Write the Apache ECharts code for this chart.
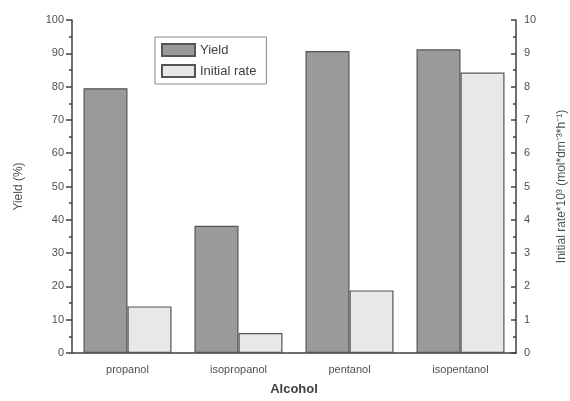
<!DOCTYPE html>
<html>
<head>
<meta charset="utf-8">
<script src="https://cdn.jsdelivr.net/npm/echarts@6/dist/echarts.min.js"></script>
<style>
  html, body { margin: 0; padding: 0; background: #fff; }
  #container { width: 570px; height: 401px; }
</style>
</head>
<body>
<div id="container"></div>
<script>
/* data */
const categories = ['propanol', 'isopropanol', 'pentanol', 'isopentanol'];
const yieldValues = [79.5, 38.2, 90.7, 91.2];     // Yield (%) - left axis
const rateValues = [1.4, 0.6, 1.88, 8.42];        // Initial rate*10^3 - right axis

const dom = document.getElementById('container');
const myChart = echarts.init(dom);
const txt = '#505050';
const ax = '#404040';

const option = {
    animation: false,
    textStyle: { fontFamily: 'Liberation Sans, Arial, sans-serif' },
    grid: { left: 72, right: 54, top: 20, bottom: 48, outerBoundsMode: 'none' },
    legend: {
        left: 155, top: 37,
        orient: 'vertical',
        icon: 'rect',
        itemWidth: 33, itemHeight: 12, itemGap: 7,
        padding: [6, 10, 6, 6],
        borderColor: '#888', borderWidth: 1,
        textStyle: { fontSize: 13, color: '#404040' },
        data: ['Yield', 'Initial rate']
    },
    xAxis: [
        {
            type: 'category',
            data: categories,
            name: 'Alcohol',
            nameLocation: 'middle',
            nameGap: 30,
            nameTextStyle: { fontSize: 13, fontWeight: 'bold', color: '#404040' },
            axisLine: { lineStyle: { color: ax, width: 1.5 } },
            axisTick: { alignWithLabel: true, length: 5, lineStyle: { color: ax, width: 1.5 } },
            axisLabel: { fontSize: 11, color: txt, margin: 11 }
        },
        {
            // boundary ticks between categories
            type: 'category',
            data: categories,
            position: 'bottom',
            axisLine: { show: false },
            axisTick: { length: 3, lineStyle: { color: ax, width: 1.5 } },
            axisLabel: { show: false }
        }
    ],
    yAxis: [
        {
            type: 'value',
            min: 0, max: 100, interval: 10,
            name: 'Yield (%)',
            nameLocation: 'middle',
            nameGap: 47,
            nameTextStyle: { fontSize: 12, color: txt },
            axisLine: { show: true, lineStyle: { color: ax, width: 1.5 } },
            axisTick: { show: true, length: 6, lineStyle: { color: ax, width: 1.5 } },
            minorTick: { show: true, splitNumber: 2, length: 3, lineStyle: { color: ax, width: 1.5 } },
            axisLabel: { fontSize: 11, color: txt, margin: 8 },
            splitLine: { show: false }
        },
        {
            type: 'value',
            min: 0, max: 10, interval: 1,
            position: 'right',
            name: 'Initial rate*10³ (mol*dm⁻³*h⁻¹)',
            nameLocation: 'middle',
            nameGap: 40,
            nameRotate: 90,
            nameTextStyle: { fontSize: 12, color: txt },
            axisLine: { show: true, lineStyle: { color: ax, width: 1.5 } },
            axisTick: { show: true, inside: true, length: 5, lineStyle: { color: ax, width: 1.5 } },
            minorTick: { show: true, splitNumber: 2, length: 3, lineStyle: { color: ax, width: 1.5 } },
            axisLabel: { fontSize: 11, color: txt, margin: 8 },
            splitLine: { show: false }
        }
    ],
    series: [
        {
            name: 'Yield',
            type: 'bar',
            yAxisIndex: 0,
            barWidth: 44,
            barGap: '0%',
            data: yieldValues,
            itemStyle: { color: '#9a9a9a', borderColor: '#555', borderWidth: 1.2 }
        },
        {
            name: 'Initial rate',
            type: 'bar',
            yAxisIndex: 1,
            barWidth: 44,
            barGap: '0%',
            data: rateValues,
            itemStyle: { color: '#e8e8e8', borderColor: '#555', borderWidth: 1.2 }
        }
    ]
};

if (option && typeof option === 'object') {
    myChart.setOption(option, true);
}
</script>
</body>
</html>
